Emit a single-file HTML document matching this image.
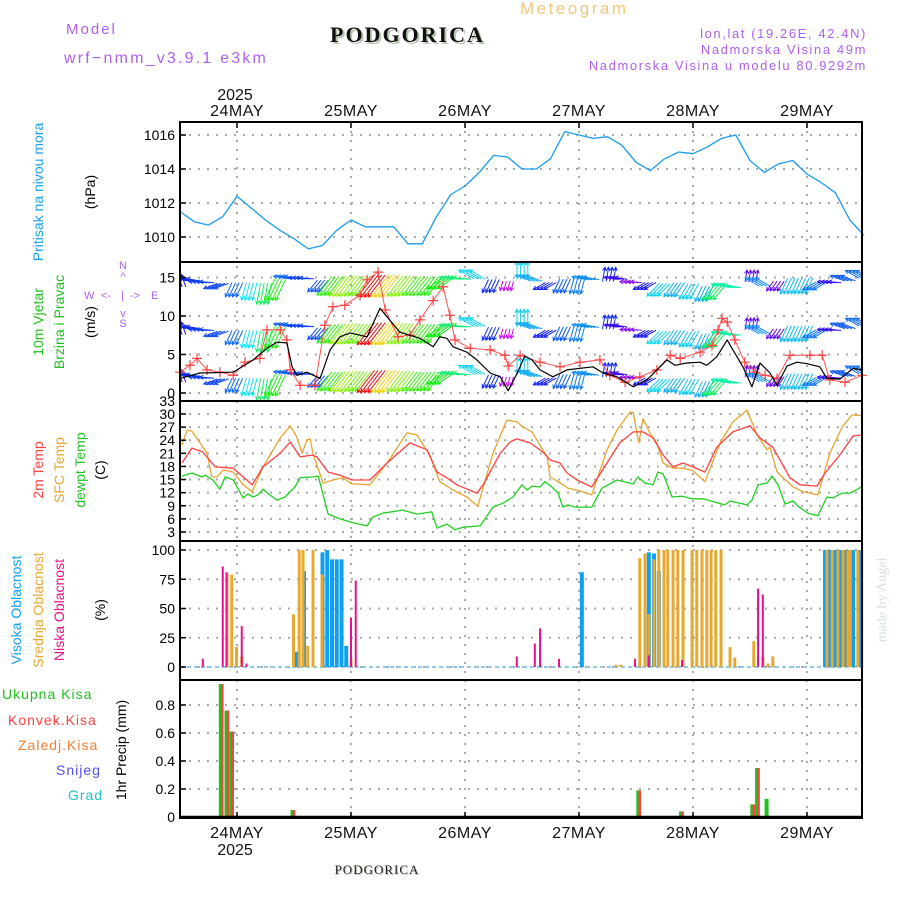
<!DOCTYPE html>
<html><head><meta charset="utf-8"><style>
html,body{margin:0;padding:0;background:#fff;}
svg{display:block;font-family:"Liberation Sans",sans-serif;}
</style></head><body>
<svg id="chart" width="900" height="900" viewBox="0 0 900 900" xmlns="http://www.w3.org/2000/svg">
<defs><clipPath id="cw"><rect x="180" y="262" width="682" height="139"/></clipPath></defs>
<g>
<text x="66" y="34" font-size="15" fill="#b060f0" letter-spacing="2">Model</text>
<text x="64" y="63" font-size="16" fill="#b060f0" letter-spacing="2.2">wrf−nmm_v3.9.1 e3km</text>
<text x="332" y="44" font-size="22" font-weight="bold" font-family="Liberation Serif, serif" fill="#b8c8b0" letter-spacing="2">PODGORICA</text>
<text x="330" y="42" font-size="22" font-weight="bold" font-family="Liberation Serif, serif" fill="#111" letter-spacing="2">PODGORICA</text>
<text x="520" y="14" font-size="17" fill="#f0c878" letter-spacing="2.5">Meteogram</text>
<text x="867" y="38" font-size="13" fill="#b060f0" letter-spacing="1.6" text-anchor="end">lon,lat (19.26E, 42.4N)</text>
<text x="867" y="54" font-size="13" fill="#b060f0" letter-spacing="1.6" text-anchor="end">Nadmorska Visina 49m</text>
<text x="867" y="70" font-size="13" fill="#b060f0" letter-spacing="1.6" text-anchor="end">Nadmorska Visina u modelu 80.9292m</text>
</g>
<g id="grid"></g>
<g id="marks"></g>
<g id="axes"></g>
<g id="labels" font-size="14">
<text transform="translate(43,192) rotate(-90)" text-anchor="middle" fill="#1aa0f0" font-size="14">Pritisak na nivou mora</text>
<text transform="translate(95,192) rotate(-90)" text-anchor="middle" fill="#000">(hPa)</text>
<text transform="translate(43,322) rotate(-90)" text-anchor="middle" fill="#20c020">10m Vjetar</text>
<text transform="translate(64,322) rotate(-90)" text-anchor="middle" fill="#20c020">Brzina i Pravac</text>
<text transform="translate(95,322) rotate(-90)" text-anchor="middle" fill="#000">(m/s)</text>
<g fill="#b060f0" font-size="11">
<text x="123" y="269" text-anchor="middle">N</text><text x="123" y="280" text-anchor="middle">^</text>
<text x="84" y="299">W</text><text x="101" y="299">&lt;-</text><text x="121" y="299">|</text><text x="130" y="299">-&gt;</text><text x="151" y="299">E</text>
<text x="123" y="317" text-anchor="middle">v</text><text x="123" y="327" text-anchor="middle">S</text>
</g>
<text transform="translate(43,470) rotate(-90)" text-anchor="middle" fill="#ff4040">2m Temp</text>
<text transform="translate(64,470) rotate(-90)" text-anchor="middle" fill="#e8a530">SFC Temp</text>
<text transform="translate(85,470) rotate(-90)" text-anchor="middle" fill="#20c020">dewpt Temp</text>
<text transform="translate(105,470) rotate(-90)" text-anchor="middle" fill="#000">(C)</text>
<text transform="translate(21,610) rotate(-90)" text-anchor="middle" fill="#10a0f0">Visoka Oblacnost</text>
<text transform="translate(43,610) rotate(-90)" text-anchor="middle" fill="#e8a830">Srednja Oblacnost</text>
<text transform="translate(64,610) rotate(-90)" text-anchor="middle" fill="#e8108a">Niska Oblacnost</text>
<text transform="translate(105,610) rotate(-90)" text-anchor="middle" fill="#000">(%)</text>
<text x="2" y="699" fill="#20c020" letter-spacing="1">Ukupna Kisa</text>
<text x="8" y="725" fill="#ff4040" letter-spacing="1">Konvek.Kisa</text>
<text x="18" y="750" fill="#f08030" letter-spacing="1">Zaledj.Kisa</text>
<text x="56" y="775" fill="#5050f0" letter-spacing="1">Snijeg</text>
<text x="68" y="800" fill="#20c0c0" letter-spacing="1">Grad</text>
<text transform="translate(126,750) rotate(-90)" text-anchor="middle" fill="#000">1hr Precip (mm)</text>
<text transform="translate(886,600) rotate(-90)" text-anchor="middle" fill="#d8e0d8" font-family="Liberation Serif, serif" font-size="14">made by Angel</text>
<text x="378" y="875" text-anchor="middle" font-family="Liberation Serif, serif" font-size="13" fill="#b8c8b0" letter-spacing="1">PODGORICA</text>
<text x="377" y="874" text-anchor="middle" font-family="Liberation Serif, serif" font-size="13" fill="#222" letter-spacing="1">PODGORICA</text>
</g>
</svg>
<script>
// ---- data (hours since 23 May 12Z) ----
const dayHours = [12, 36, 60, 84, 108, 132];
const dayLabels = ["24MAY", "25MAY", "26MAY", "27MAY", "28MAY", "29MAY"];
const yearLabel = "2025";
const pressTicks = [1010, 1012, 1014, 1016];
const windTicks = [0, 5, 10, 15];
const tempTicks = [3, 6, 9, 12, 15, 18, 21, 24, 27, 30, 33];
const cloudTicks = [0, 25, 50, 75, 100];
const precipTicks = [0, 0.2, 0.4, 0.6, 0.8];
const precipTickLabels = ["0", "0.2", "0.4", "0.6", "0.8"];

const pressHours = [0,3,6,9,12,15,18,21,24,27,30,33,36,39,42,45,48,51,54,57,60,63,66,69,72,75,78,81,84,87,90,93,96,99,102,105,108,111,114,117,120,123,126,129,132,135,138,141,144];
const pressVals = [1011.5,1010.9,1010.7,1011.2,1012.4,1011.7,1011,1010.4,1009.9,1009.3,1009.5,1010.4,1011,1010.6,1010.6,1010.6,1009.6,1009.6,1011.2,1012.5,1013,1013.8,1014.8,1014.7,1014,1014,1014.6,1016.2,1016,1015.8,1015.9,1015.4,1014.4,1013.9,1014.6,1015,1014.9,1015.3,1015.8,1016,1014.5,1013.8,1014.3,1014.5,1013.7,1013.2,1012.6,1011,1010.1];

const windHours = [0,4.2,11.2,15.4,18.3,20.4,22.5,23.6,24.6,26.7,29.5,31.6,33.7,35.8,39.4,42.1,46.3,50.5,53.3,54.7,56.2,57.5,60.4,62.5,65.3,67.4,69.1,71,72.6,74.1,75.8,78.5,81.5,86.9,89.1,92,95.4,98.3,102.5,104.2,106.7,109.5,110.9,113,115.2,116.2,118.5,120.4,122.1,124.2,125.7,127.8,129.9,132,134.7,136.2,138.9,141.7,143.6];
const windSpeed = [1.9,2.6,2.7,4.3,5.8,6.6,6.5,3.4,2.3,2.7,1.9,5.6,7.3,7.8,7.3,11,7.9,7.1,6,7.3,7.1,6,5.3,4.3,2.6,2.1,0.3,2.6,4.8,4.3,3,2.1,3,3.4,2.6,2.1,0.8,1.7,4.3,3.6,3.9,4,3.6,4.7,6.9,5.8,3.4,0.8,3.9,2.6,1,3.5,4,3.8,3.4,1.9,1.8,3.2,3];
const gustHours = [0,2.1,3.6,5.7,8.4,11.2,13.7,16.8,18.3,21.1,22.5,23.2,25.3,28.4,30.5,32.2,34.7,37.9,39.4,41.7,43.2,45.9,48.4,50.5,53.3,55.4,56.8,57.9,61.1,65.3,68.4,69.1,71.6,75.8,80,84.2,88.4,90.5,93.7,96.8,100.4,103.2,105.3,109.5,112,113.3,114.1,115.2,116.8,118.9,121.1,123.2,125.7,128.4,132.6,135.2,136.8,140,143.6];
const gustVals = [2.7,3.6,4.5,3,2.7,2.3,4,4.5,8.2,8.2,6.9,3,1,1,8.8,11.2,11.4,12.7,14.7,15.7,10.8,7.3,7.5,9.5,12,13.8,10.1,6.9,5.8,5.6,4.9,3.5,4.9,4,3.4,4,4.3,2.3,1.4,2.1,3,4.9,4.5,5.3,6.2,8.2,9.7,9.2,6.9,4,2.7,2.3,1.9,4.9,4.9,4.9,1.7,1.4,2.3];
const arrowHours = pressHours;
const arrowBase = [2.2,2.3,2,1.5,1,0.8,0.5,1,2.6,2.5,1.5,1.5,1.5,1.5,1.5,1.5,1.5,1.5,1.5,2,2.5,3,1.5,1.5,3.5,2.5,1.5,1.5,1.5,2.5,3,2.5,2,1.5,1,1,0.8,0.5,0.8,1.5,2.8,2,1.5,1.5,1.5,1.5,2,2.5,3];
const arrowDir = [110,170,175,200,245,255,260,245,170,175,230,232,232,232,232,232,232,232,232,215,175,150,245,255,90,160,210,245,255,170,80,170,175,210,225,235,240,245,230,170,80,150,235,245,245,210,175,160,150];

const t2Hours = [0.4,2.5,4.8,7.4,11.2,15.2,17.5,21.1,23.2,25.3,27.8,28.8,31.2,33.7,36.2,40,43.6,48.4,52,54.1,56.2,58.3,62.5,63.8,67.4,69.5,70.9,73.7,76.4,77.9,80,81.5,83.6,86.7,89.9,92.6,95.4,97.5,99.6,101.7,103.8,105.9,108,110.5,113,116.4,120,122.1,124.8,128.4,130.5,134.1,135.8,138.9,141.7,143.8];
const t2Vals = [18.8,22.2,21.3,17.9,17.6,13.8,17.9,21,23.6,20.2,20.6,20.2,16.7,16,14.9,14.9,18.8,23.4,21.8,16.7,15.4,13.8,11.9,13.8,21,23.6,24.3,23.4,21.3,19.5,18.8,16.5,14.9,13.3,18.8,23.4,25.9,25.9,24.5,20.6,17.9,18.8,17.9,16.7,22.4,25.9,27.3,24.5,22.4,15.4,13.8,13.5,16.5,20.6,25,25.2];
const sfcHours = [0.4,1.5,2.5,5.7,6.7,7.8,9.1,11.2,13.3,15.2,17.5,21.1,23.2,24.6,25.7,26.7,27.4,28,30.1,32.2,34.3,36.2,40,43.6,47.8,49.9,52.6,54.7,57.5,60.4,62.7,65.9,68.8,70.9,72.2,74.1,75.8,77.3,77.9,79.4,81.7,84.2,86.7,89.9,92,94.7,95.4,96.6,97.5,98.9,100.4,101.7,103.8,105.9,108,110.5,113.7,116.4,119.4,121.5,123.6,124.2,125.7,129.1,131.2,134.3,136.8,139.4,141.5,143.8];
const sfcVals = [22.9,26.3,26.1,21,15.6,15.6,17.2,16.7,13.8,12.2,17.9,24.5,27.3,24.7,21,24,24.3,21,14.2,14.9,15.4,14,13.8,18.8,25.7,25.2,20.6,14.5,12.6,11,8.9,21,28.6,28.2,27,25.9,22.9,20.2,15.6,14.7,13,12.4,11.5,21.8,26.3,30.4,30.4,23.4,28.9,25.7,23.4,18.8,17.6,17.6,17,14.5,23.4,28.2,30.9,25.2,21.8,22.4,16.7,13.3,12.2,11.5,21,27,29.8,29.6];
const dewHours = [0.4,2.5,4.6,5.3,6.9,8.4,9.5,11.2,13.3,14.3,15.4,16.4,17.5,18.9,20.4,22.1,24.2,25.3,28,29.1,31.2,33.7,36.4,39.4,40.6,42.7,46.9,49.9,53,54.1,56.2,57.9,59.6,63.2,65.9,68,70.1,72,73.1,74.1,75.8,76.8,78.3,79.6,80.6,81.7,83.2,86.7,88.8,92,95.4,96.4,97.9,99.6,100.6,101.7,103.6,105.7,107.8,110.1,114.7,115.8,119.4,120.4,121.7,123.6,124.6,125.9,127.4,129.1,130.1,132.2,134.3,136.2,137.5,139.4,141.1,143.8];
const dewVals = [15.8,16.5,15.6,16,14.9,12.8,15.6,14.9,10.8,11.7,11,11.5,12.8,11.5,10.3,11,13.3,15.4,15.6,15.8,7.1,6,5.1,4.4,6.4,7.3,8,7.1,7.6,3.9,4.8,3.5,4.1,4.4,8.7,9.6,11,13.8,12.6,13.5,13.3,14.5,13.3,11.9,8.7,9.2,8.7,8.7,13,14.9,14,15.6,14.2,13.8,16.7,16.3,11,11.2,10.6,10.6,9.2,10.1,9.2,10.3,13.8,14.2,15.8,13.8,9.4,10.1,8.9,7.3,6.7,11,10.8,11.9,11.9,13.5];

const highCloudHours = [24.6,26.1,30,31,32,33,34,35,84.6,98.7,99.8,100.8,135.8,136.8,137.9,138.9,140,141.7,143.4];
const highCloudVals = [13,82,98,100,92,92,92,18,81,98,97,82,100,100,100,100,100,100,100];
const midCloudHours = [9.9,10.9,11.9,13,23.9,25.1,25.9,26.9,28,29.9,36,91.8,92.8,96.8,97.9,98.7,99.8,100.8,101.9,102.7,103.8,104.8,105.9,107.8,108.8,109.9,110.9,111.8,112.8,113.9,115.8,116.8,120.8,122.7,123.8,124.8,136.2,137.3,138.5,139.6,140.6,141.1,142.7];
const midCloudVals = [80,79,17,9,45,100,100,18,100,79,8,2,2,93,97,45,92,100,100,100,100,100,100,100,100,100,100,100,100,100,17,8,22,9,3,9,100,100,100,100,100,100,100];
const lowCloudHours = [4.8,9,9.8,13,14,36,37,70.9,74.7,75.8,79.8,95.8,98.7,105.7,121.7,122.7];
const lowCloudVals = [7,86,81,35,3,42,74,9,20,33,7,7,10,6,67,62];

const precipHours = [8.8,10,11,11.9,23.9,96.7,105.7,120.7,121.7,123.7];
const precipTotal = [0.95,0.76,0.61,0.01,0.05,0.19,0.04,0.09,0.35,0.13];
const precipConv = [0.95,0.76,0.61,0.01,0.05,0.19,0.04,0.09,0.35,0];

// ---- scales ----
const X0 = 180, X1 = 862;
const xS = h => X0 + h * 4.75;
const yP = v => 135 + (1016 - v) * 17;
const yW = v => 393 - v * 7.7;
const yT = v => 532 - (v - 3) * 4.37;
const yC = v => 667 - v * 1.17;
const yR = v => 817 - v * 140;
const panels = [[122, 262], [262, 401], [401, 541], [541, 680], [680, 818]];

const NS = "http://www.w3.org/2000/svg";
function mk(tag, attrs, parent) {
  const e = document.createElementNS(NS, tag);
  for (const k in attrs) e.setAttribute(k, attrs[k]);
  parent.appendChild(e);
  return e;
}
const grid = document.getElementById("grid");
const marks = document.getElementById("marks");
const axes = document.getElementById("axes");

function hgrid(ticks, fy, name, labels) {
  ticks.forEach((t, i) => {
    const y = fy(t);
    const l = mk("line", {x1: X0, x2: X1, y1: y, y2: y, stroke: "#aaa", "stroke-width": 2, "stroke-dasharray": "2,7"}, grid);
    
    
    const tk = mk("line", {x1: X0, x2: X0 + 6, y1: y, y2: y, stroke: "#000", "stroke-width": 1.5}, axes);
    
    
    const tx = mk("text", {x: 175, y: y + 5, "text-anchor": "end", "font-size": 14, fill: "#000"}, axes);
    tx.textContent = labels ? labels[i] : String(t);
    
    
  });
}
hgrid(pressTicks, yP, "pressure-y");
hgrid(windTicks, yW, "wind-y");
hgrid(tempTicks, yT, "temp-y");
hgrid(cloudTicks, yC, "cloud-y");
hgrid(precipTicks, yR, "precip-y", precipTickLabels);

dayHours.forEach((h, i) => {
  const x = xS(h);
  const v = mk("line", {x1: x, x2: x, y1: 122, y2: 818, stroke: "#aaa", "stroke-width": 2, "stroke-dasharray": "2,7"}, grid);
  
  
  [[122, 128], [812, 818]].forEach(([a, b]) => {
    const t = mk("line", {x1: x, x2: x, y1: a, y2: b, stroke: "#000", "stroke-width": 1.5}, axes);
    
    
  });
  const tt = mk("text", {x: x, y: 116, "text-anchor": "middle", "font-size": 16, "letter-spacing": 0.5, fill: "#111"}, axes);
  tt.textContent = dayLabels[i];
  
  
  const tb = mk("text", {x: x, y: 838, "text-anchor": "middle", "font-size": 16, "letter-spacing": 0.5, fill: "#111"}, axes);
  tb.textContent = dayLabels[i];
  
  
});
const yt = mk("text", {x: xS(dayHours[0]) - 2, y: 100, "text-anchor": "middle", "font-size": 16, fill: "#111"}, axes);
yt.textContent = yearLabel;


const yb = mk("text", {x: xS(dayHours[0]) - 2, y: 855, "text-anchor": "middle", "font-size": 16, fill: "#111"}, axes);
yb.textContent = yearLabel;



panels.forEach(([a, b]) => {
  const r = mk("rect", {x: X0, y: a, width: X1 - X0, height: b - a, fill: "none", stroke: "#000", "stroke-width": 2}, axes);
  
  
});

function line(hs, vs, fy, color, w, name) {
  const n = Math.min(hs.length, vs.length);
  let d = "";
  for (let i = 0; i < n; i++) d += (i ? "L" : "M") + xS(hs[i]).toFixed(1) + "," + fy(vs[i]).toFixed(1);
  const p = mk("path", {d: d, fill: "none", stroke: color, "stroke-width": w, "stroke-linejoin": "round"}, marks);
  
  
  return p;
}

line(pressHours, pressVals, yP, "#1a9cf0", 1.3, "pressure-line");

const wg = mk("g", {"clip-path": "url(#cw)"}, marks);


function interpSpeed(h) {
  for (let i = 1; i < windHours.length; i++) {
    if (windHours[i] >= h) {
      const a = windHours[i - 1], b = windHours[i];
      const f = b > a ? (h - a) / (b - a) : 0;
      return windSpeed[i - 1] + f * (windSpeed[i] - windSpeed[i - 1]);
    }
  }
  return windSpeed[windSpeed.length - 1];
}
const nA = Math.min(arrowHours.length, arrowBase.length, arrowDir.length);
for (let i = 0; i < nA; i++) {
  const s = interpSpeed(arrowHours[i]);
  const hue = Math.max(0, 300 - 28 * s);
  const col = "hsl(" + hue.toFixed(0) + ",90%,50%)";
  const len = Math.min(28, 9 + 2.2 * s);
  const ang = arrowDir[i] * Math.PI / 180;
  const dx = Math.cos(ang) * len, dy = -Math.sin(ang) * len;
  for (let row = 0; row < 3; row++) {
    const lvl = arrowBase[i] + row * 6.2;
    if (lvl > 17.5) continue;
    for (let j = 0; j < 4; j++) {
      const x = xS(arrowHours[i]) + j * 3.6 - 5;
      const y = yW(lvl) - dy * 0.5;
      const x2 = x + dx, y2 = y + dy;
      const a = mk("path", {d: "M" + x.toFixed(1) + "," + y.toFixed(1) + "L" + x2.toFixed(1) + "," + y2.toFixed(1) +
        "M" + (x2 - Math.cos(ang - 0.5) * 4).toFixed(1) + "," + (y2 + Math.sin(ang - 0.5) * 4).toFixed(1) + "L" + x2.toFixed(1) + "," + y2.toFixed(1) +
        "L" + (x2 - Math.cos(ang + 0.5) * 4).toFixed(1) + "," + (y2 + Math.sin(ang + 0.5) * 4).toFixed(1),
        fill: "none", stroke: col, "stroke-width": 1}, wg);
      
      
    }
  }
}
line(gustHours, gustVals, yW, "#ff5050", 1, "gust-line");
const ng = Math.min(gustHours.length, gustVals.length);
for (let i = 0; i < ng; i++) {
  const x = xS(gustHours[i]), y = yW(gustVals[i]);
  const p = mk("path", {d: "M" + (x - 5) + "," + y + "h10M" + x + "," + (y - 5) + "v10", stroke: "#ff4040", "stroke-width": 1.2}, marks);
  
  
}
line(windHours, windSpeed, yW, "#000", 1.2, "wind-speed-line");

line(sfcHours, sfcVals, yT, "#e8a530", 1.3, "sfc-temp-line");
line(t2Hours, t2Vals, yT, "#ff4040", 1.3, "temp-2m-line");
line(dewHours, dewVals, yT, "#20d020", 1.3, "dewpoint-line");

const zb = mk("line", {x1: X0, x2: X1, y1: yC(0), y2: yC(0), stroke: "#90c8f0", "stroke-width": 2, "stroke-dasharray": "4,3"}, marks);


function bars(hs, vs, fy, color, w, off, name) {
  const n = Math.min(hs.length, vs.length);
  for (let i = 0; i < n; i++) {
    const y = fy(vs[i]), y0 = fy(0);
    const r = mk("rect", {x: xS(hs[i]) - w / 2 + off, y: Math.min(y, y0), width: w, height: Math.abs(y0 - y), fill: color}, marks);
    
    
  }
}
bars(highCloudHours, highCloudVals, yC, "#10a0f0", 4, 0, "high-cloud-bar");
bars(midCloudHours, midCloudVals, yC, "#e8a830", 3, 0, "mid-cloud-bar");
bars(lowCloudHours, lowCloudVals, yC, "#e8108a", 2, 0, "low-cloud-bar");

bars(precipHours, precipTotal, yR, "#20c020", 4, -1, "total-precip-bar");
bars(precipHours, precipConv, yR, "#ff4040", 2.5, 0.5, "convective-precip-bar");
const pb = mk("line", {x1: X0, x2: X1, y1: 817, y2: 817, stroke: "#000", "stroke-width": 2.5}, axes);


</script>
</body></html>
